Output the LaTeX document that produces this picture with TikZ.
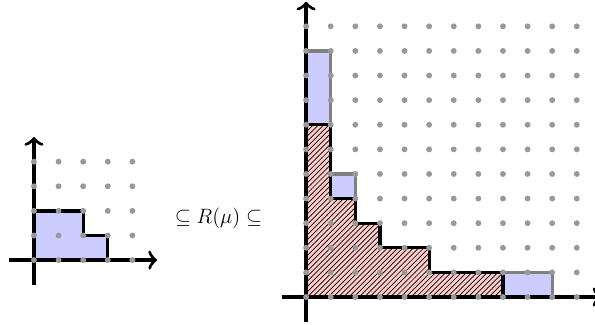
\documentclass[tikz,border=0pt]{standalone}
\usepackage{amsmath}
\usetikzlibrary{arrows.meta, patterns}

\begin{document}
\begin{tikzpicture}[x=0.5cm,y=0.5cm,>={Classical TikZ Rightarrow[width=11pt,length=5pt]},axis/.style={->,line width=1.9pt},dot/.style={fill=gray!80},smallshape/.style={fill=blue!20,draw,line width=1.9pt},outershape/.style={fill=blue!20,draw=gray,line width=1.9pt},innershape/.style={preaction={fill=red!20},pattern=north east lines,draw,line width=1.9pt}]
\useasboundingbox (-1.38,-2.6) rectangle (22.8,10.57);
% left diagram
\draw[smallshape] (0,0)--(0,2)--(2,2)--(2,1)--(3,1)--(3,0)--cycle;
\draw[axis] (-1,0)--(5,0);
\draw[axis] (0,-1)--(0,5);
\foreach \i in {0,...,4}
  \foreach \j in {0,...,4}
    \fill[dot] (\i,\j) circle (0.12);
% inclusion
\node[font=\large] (incl) at (7.5,1.71) {$\subseteq R(\mu) \subseteq$};
% right diagram
\begin{scope}[shift={(11.06,-1.5)}]
\draw[outershape] (0,0)--(0,10)--(1,10)--(1,5)--(2,5)--(2,3)--(3,3)--(3,2)--(5,2)--(5,1)--(10,1)--(10,0)--cycle;
\draw[innershape] (0,0)--(0,7)--(1,7)--(1,4)--(2,4)--(2,3)--(3,3)--(3,2)--(5,2)--(5,1)--(8,1)--(8,0)--cycle;
\draw[axis] (-1,0)--(12,0);
\draw[axis] (0,-1)--(0,12);
\foreach \i in {0,...,11}
  \foreach \j in {0,...,11}
    \fill[dot] (\i,\j) circle (0.12);
\end{scope}
\end{tikzpicture}
\end{document}
